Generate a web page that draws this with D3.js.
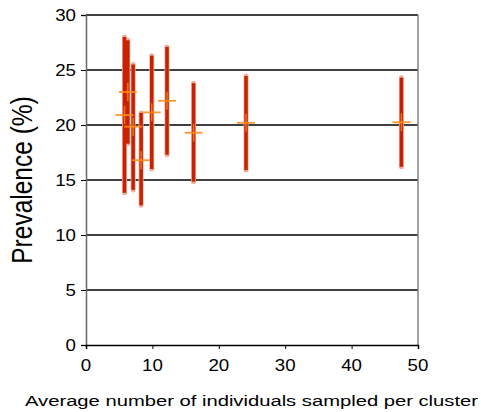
<!DOCTYPE html>
<html><head><meta charset="utf-8">
<script src="https://cdn.jsdelivr.net/npm/d3@7"></script>
<style>body{margin:0;background:#fff}svg{display:block}text{font-family:"Liberation Sans",Arial,sans-serif}</style>
</head><body>
<svg id="c" width="481" height="412"></svg>
<script>
const xValues = [5.8, 6.3, 7.1, 8.3, 9.9, 12.2, 16.2, 24.1, 47.5];
const lowValues = [13.85, 18.3, 14.1, 12.7, 16.0, 17.3, 14.85, 15.9, 16.2];
const highValues = [28.0, 27.7, 25.5, 21.1, 26.3, 27.1, 23.8, 24.45, 24.3];
const meanValues = [20.9, 23.0, 19.85, 16.8, 21.15, 22.2, 19.3, 20.2, 20.25];
const xTicks = [0, 10, 20, 30, 40, 50];
const yTicks = [0, 5, 10, 15, 20, 25, 30];

const svg = d3.select("#c");
const L = 86, R = 418, T = 15, B = 345;
const SX = 1.17;
const x = d3.scaleLinear().domain([0, 50]).range([L, R]);
const y = d3.scaleLinear().domain([0, 30]).range([B, T]);

// gridlines
svg.append("g").selectAll("line").data(yTicks.filter(d => d > 0)).join("line")
  .attr("x1", L).attr("x2", R).attr("y1", d => y(d)).attr("y2", d => y(d))
  .attr("stroke", "#000").attr("stroke-width", 1.5);
// right border
svg.append("line").attr("x1", R).attr("x2", R).attr("y1", T).attr("y2", B)
  .attr("stroke", "#808080").attr("stroke-width", 1.5);

const yAxis = svg.append("g").attr("transform", `translate(${L},0)`)
  .call(d3.axisLeft(y).tickValues(yTicks).tickSize(5).tickFormat(""));
yAxis.select(".domain").attr("stroke", "#666").attr("stroke-width", 1.5);
yAxis.selectAll(".tick line").attr("stroke", "#000");
yAxis.selectAll(".tick text").remove();

const xAxis = svg.append("g").attr("transform", `translate(0,${B})`)
  .call(d3.axisBottom(x).tickValues(xTicks).tickSize(4).tickFormat(""));
xAxis.select(".domain").attr("stroke", "#000").attr("stroke-width", 1.5);
xAxis.selectAll(".tick line").attr("stroke", "#000");
xAxis.selectAll(".tick text").remove();

// stretched tick labels
svg.append("g").selectAll("text").data(yTicks).join("text")
  .attr("transform", d => `translate(76,${y(d) + 5.8}) scale(${SX},1)`)
  .attr("text-anchor", "end").attr("font-size", 16).text(d => d);
svg.append("g").selectAll("text").data(xTicks).join("text")
  .attr("transform", d => `translate(${x(d)},371) scale(${SX},1)`)
  .attr("text-anchor", "middle").attr("font-size", 16).text(d => d);

const data = xValues.map((v, i) => ({x: v, lo: lowValues[i], hi: highValues[i], m: meanValues[i]}));
const g = svg.append("g");
g.selectAll("line.halo").data(data).join("line").attr("class", "halo")
  .attr("x1", d => x(d.x)).attr("x2", d => x(d.x))
  .attr("y1", d => y(d.hi)).attr("y2", d => y(d.lo))
  .attr("stroke", "#eab0a0").attr("stroke-width", 5).attr("stroke-linecap", "round");
g.selectAll("line.bar").data(data).join("line").attr("class", "bar")
  .attr("x1", d => x(d.x)).attr("x2", d => x(d.x))
  .attr("y1", d => y(d.hi)).attr("y2", d => y(d.lo))
  .attr("stroke", "#c82000").attr("stroke-width", 3.5);
g.selectAll("line.h").data(data).join("line").attr("class", "h")
  .attr("x1", d => x(d.x) - 9).attr("x2", d => x(d.x) + 9)
  .attr("y1", d => y(d.m)).attr("y2", d => y(d.m))
  .attr("stroke", "#ff8c1a").attr("stroke-width", 1.8).attr("opacity", 0.9);
g.selectAll("line.v").data(data).join("line").attr("class", "v")
  .attr("x1", d => x(d.x)).attr("x2", d => x(d.x))
  .attr("y1", d => y(d.m) - 9).attr("y2", d => y(d.m) + 9)
  .attr("stroke", "#ff8c1a").attr("stroke-width", 1.5).attr("opacity", 0.75);

svg.append("text").attr("x", 251.5).attr("y", 405.5).attr("text-anchor", "middle")
  .attr("font-size", 15.5).attr("textLength", 453).attr("lengthAdjust", "spacingAndGlyphs")
  .text("Average number of individuals sampled per cluster");
svg.append("text").attr("transform", `translate(32,180) scale(${SX},1) rotate(-90)`).attr("text-anchor", "middle")
  .attr("font-size", 24.5).text("Prevalence (%)");
</script>
</body></html>
